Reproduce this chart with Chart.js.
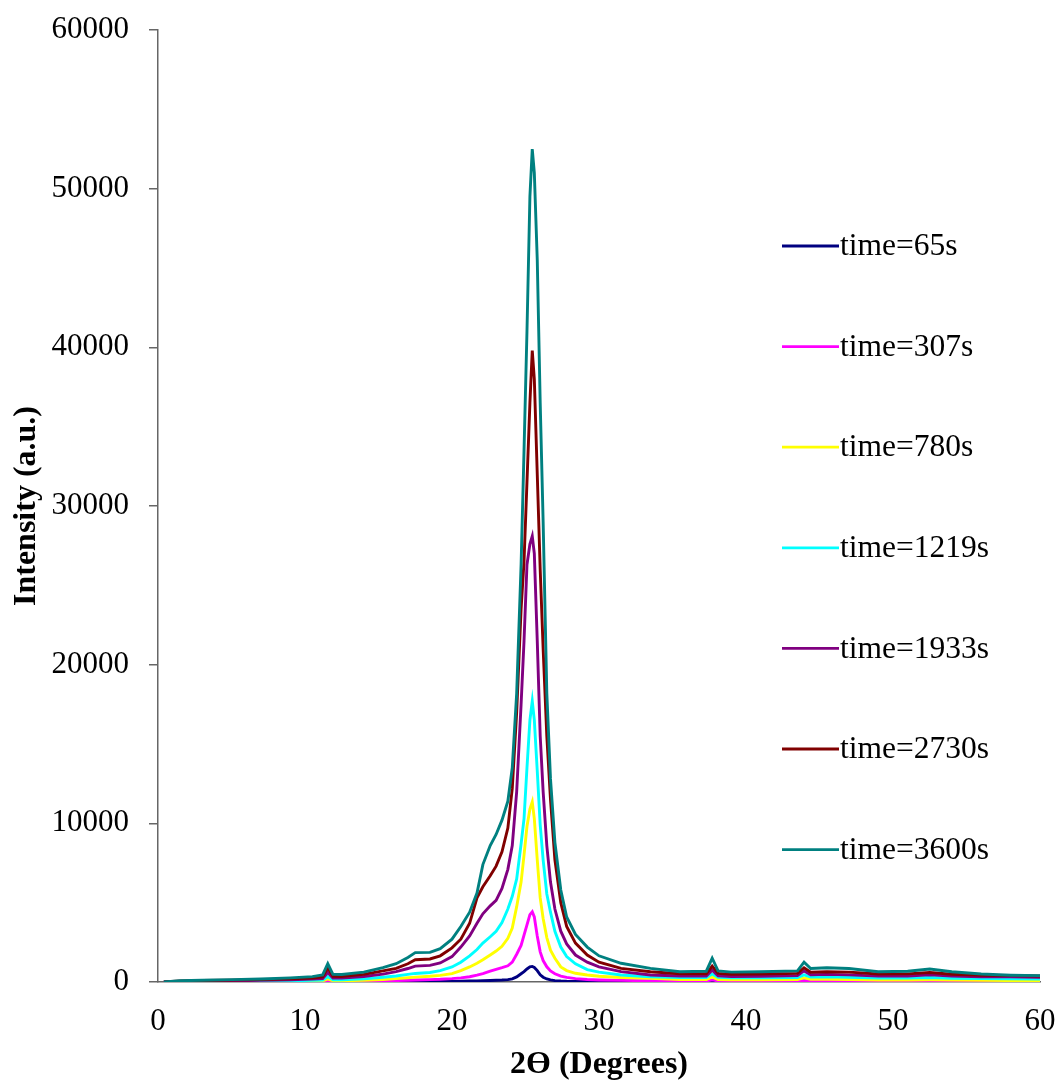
<!DOCTYPE html>
<html>
<head>
<meta charset="utf-8">
<script src="https://cdn.jsdelivr.net/npm/chart.js@4"></script>
<style>
  html,body{margin:0;padding:0;background:#fff;}
  #wrap{width:1058px;height:1082px;}
</style>
</head>
<body>
<div id="wrap"><canvas id="c-xrd" width="1058" height="1082"></canvas></div>
<script>
// ── XRD patterns vs time ──
const ANGLE = [0.4,1.5,3,5,7,9,10.5,11.2,11.55,11.9,12.5,14,15.3,16.2,17,17.5,18.5,19.2,20,20.6,
  21.2,21.7,22.1,22.6,23,23.4,23.8,24.1,24.4,24.7,24.9,25.1,25.3,25.46,25.6,25.8,26.0,26.2,26.45,26.7,
  27.0,27.4,27.8,28.4,29.2,30,31.5,33.5,35.5,37.3,37.7,38.1,39,41,43.5,43.95,44.4,45.5,47,49,
  51,52.5,54,56,58,60];

const T65 = [0,2,3,4,5,6,8,9,20,10,10,12,15,18,22,25,30,35,42,50,
  60,70,80,95,110,125,150,200,320,520,650,820,950,980,920,720,450,300,190,130,
  90,65,50,40,30,25,20,15,13,13,25,13,12,12,12,20,12,12,11,10,
  10,10,9,8,8,8];
const T307 = [0,5,8,10,15,20,25,30,80,35,35,50,70,90,110,125,150,170,210,260,
  330,430,530,680,800,900,1020,1250,1750,2300,2950,3600,4250,4430,4100,2900,1900,1350,960,700,
  520,370,290,210,160,130,100,80,65,65,130,65,60,60,60,100,65,65,60,55,
  55,55,50,45,40,40];
const T780 = [0,10,15,20,30,40,55,65,200,75,75,110,160,210,270,310,360,420,530,720,
  950,1180,1400,1700,1950,2250,2750,3400,4750,6300,8000,9800,10900,11350,10300,7700,5300,4000,2800,2000,
  1500,950,720,550,440,360,280,230,150,150,320,160,140,140,150,260,170,170,160,130,
  130,140,120,100,90,80];
const T1219 = [0,20,30,40,55,80,100,120,350,140,140,200,300,380,480,540,600,720,950,1250,
  1650,2050,2450,2850,3200,3750,4600,5400,6500,8700,10300,13500,16500,17700,16500,13300,9900,7700,5550,4400,
  3200,2200,1600,1150,780,620,440,335,280,280,500,290,260,260,280,450,310,320,300,250,
  250,280,240,210,200,190];
const T1933 = [0,40,60,80,100,140,180,220,600,250,250,350,500,650,850,1000,1050,1200,1600,2200,
  2900,3700,4300,4800,5150,5900,7100,8600,12000,17500,21500,26300,27600,28100,27000,21500,15500,12000,8600,6300,
  4600,3200,2400,1700,1250,950,650,440,380,380,750,390,350,360,400,700,460,480,450,370,
  380,450,370,330,320,300];
const T2730 = [0,60,90,120,150,200,250,320,900,360,350,480,700,860,1150,1400,1450,1650,2150,2700,
  3700,5300,6000,6700,7300,8200,9700,12200,17000,23500,26500,31500,36500,39800,38000,32000,26000,21000,15500,11500,
  7700,5000,3500,2450,1700,1250,860,650,520,520,1000,540,480,500,540,900,620,650,620,500,
  510,600,490,420,400,380];
const T3600 = [0,80,110,150,190,260,340,450,1150,480,470,620,900,1150,1550,1850,1870,2100,2700,3500,
  4400,5600,7400,8600,9300,10200,11400,13500,18200,26300,33500,41000,49500,52500,51000,45500,36500,29000,18200,12800,
  8800,5800,4100,3000,2200,1650,1180,860,650,680,1500,700,620,650,700,1250,850,900,850,650,
  680,820,650,500,430,400];

const LABELS = ['time=65s','time=307s','time=780s','time=1219s','time=1933s','time=2730s','time=3600s'];
const SERIES = [T65,T307,T780,T1219,T1933,T2730,T3600];
const COLORS = ['#000080','#ff00ff','#ffff00','#00ffff','#800080','#800000','#008080'];
const X_TICKS = [0,10,20,30,40,50,60];
const Y_TICKS = [0,10000,20000,30000,40000,50000,60000];

const SERIF = '"Liberation Serif","Times New Roman",serif';

// legend drawn inside the plot, like the original
const xrdLegend = {
  id:'xrdLegend',
  afterDatasetsDraw(chart){
    const ctx = chart.ctx;
    ctx.save();
    ctx.font = '31.5px '+SERIF;
    ctx.textBaseline = 'middle';
    ctx.fillStyle = '#000';
    LABELS.forEach((l,i)=>{
      const y = 246 + i*100.6;
      ctx.strokeStyle = COLORS[i];
      ctx.lineWidth = 2.8;
      ctx.beginPath(); ctx.moveTo(782,y); ctx.lineTo(839,y); ctx.stroke();
      ctx.fillText(l, 840, y+1);
    });
    ctx.restore();
  }
};

new Chart(document.getElementById('c-xrd'),{
  type:'line',
  data:{
    datasets: SERIES.map((s,i)=>({
      label:LABELS[i],
      data:s.map((v,j)=>({x:ANGLE[j],y:v})),
      borderColor:COLORS[i],
      backgroundColor:COLORS[i],
      borderWidth:2.9,
      pointRadius:0,
      tension:0,
      fill:false,
      order:SERIES.length-i
    }))
  },
  options:{
    responsive:false,
    animation:false,
    devicePixelRatio:1,
    layout:{padding:{top:30,right:18,left:0,bottom:0}},
    plugins:{legend:{display:false},tooltip:{enabled:false}},
    scales:{
      x:{
        type:'linear',min:0,max:60,
        afterBuildTicks:sc=>{sc.ticks=X_TICKS.map(v=>({value:v}));},
        afterFit:sc=>{sc.height=100;sc.paddingLeft=0;sc.paddingRight=0;},
        grid:{display:false},
        border:{display:true,color:'#666',width:1.5},
        ticks:{color:'#000',font:{family:SERIF,size:31},padding:13,maxRotation:0},
        title:{display:true,text:'2Ө (Degrees)',color:'#000',font:{family:SERIF,size:32,weight:'bold',lineHeight:1.1},padding:{top:0,bottom:0}}
      },
      y:{
        min:0,max:60000,
        afterBuildTicks:sc=>{sc.ticks=Y_TICKS.map(v=>({value:v}));},
        afterFit:sc=>{sc.width=158;sc.paddingTop=0;sc.paddingBottom=0;},
        grid:{drawOnChartArea:false,drawTicks:true,tickLength:9,color:'#666',lineWidth:1.5},
        border:{display:true,color:'#666',width:1.5},
        ticks:{color:'#000',font:{family:SERIF,size:31},padding:20,callback:v=>String(v)},
        title:{display:true,text:'Intensity (a.u.)',color:'#000',font:{family:SERIF,size:32,weight:'bold'},padding:{top:8,bottom:0}}
      }
    }
  },
  plugins:[xrdLegend]
});
</script>
</body>
</html>
